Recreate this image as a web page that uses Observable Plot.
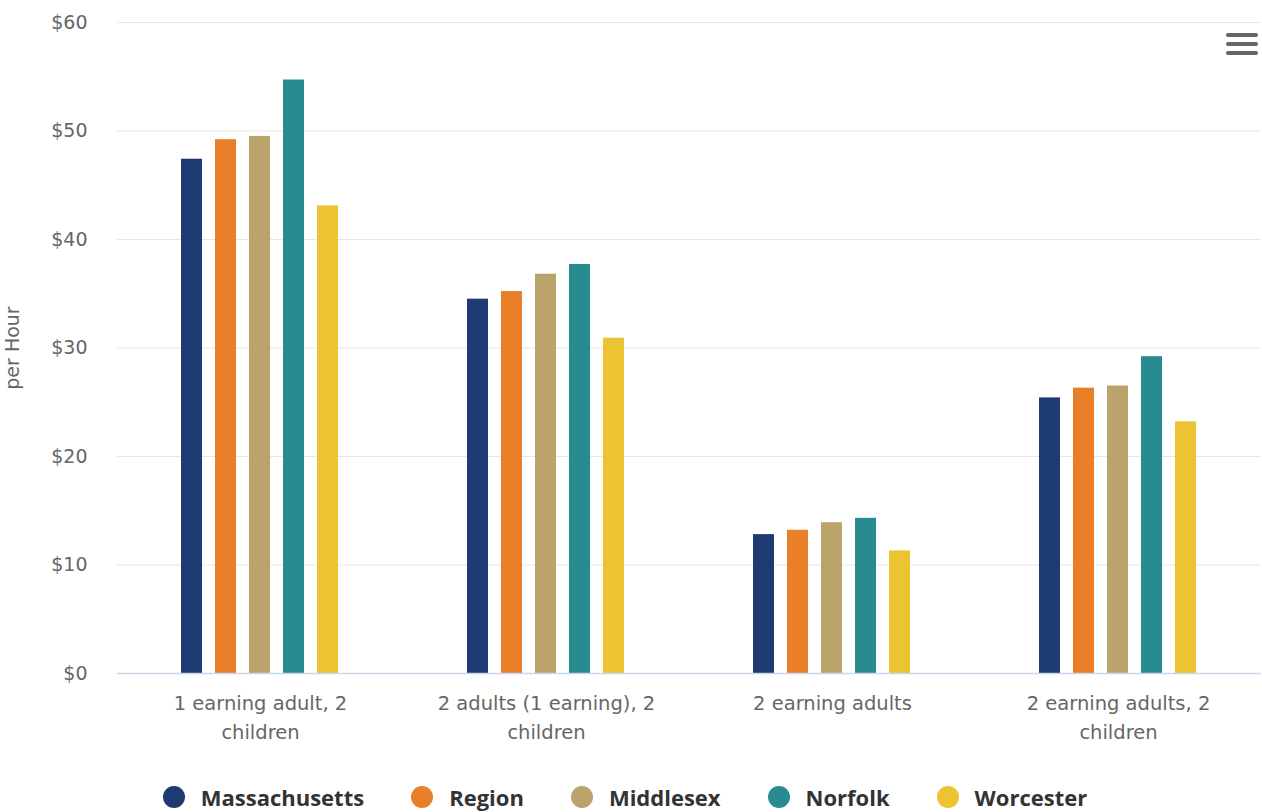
<!DOCTYPE html>
<html>
<head>
<meta charset="utf-8">
<script src="https://cdn.jsdelivr.net/npm/d3@7"></script>
<script src="https://cdn.jsdelivr.net/npm/@observablehq/plot@0.6"></script>
<style>
  body { margin: 0; background: #fff; font-family: "Open Sans", sans-serif; }
  #wrap { position: relative; width: 1262px; height: 812px; }
  #legend { position: absolute; left: 0; top: 782px; width: 1262px; display: flex; justify-content: center; gap: 47px; padding-right: 12px; box-sizing: border-box; }
  .item { display: flex; align-items: center; gap: 16px; font-weight: bold; font-size: 22px; color: #333; line-height: 30px; }
  .dot { width: 22px; height: 22px; border-radius: 50%; display: inline-block; }
  #menu { position: absolute; left: 1226px; top: 33px; width: 32px; }
  #menu span { display: block; height: 4px; background: #666; border-radius: 2px; margin-bottom: 5px; }
</style>
</head>
<body>
<div id="wrap">
  <div id="chart"></div>
  <div id="menu"><span></span><span></span><span></span></div>
  <div id="legend"></div>
</div>
<script>
const categories = ["1 earning adult, 2 children", "2 adults (1 earning), 2 children", "2 earning adults", "2 earning adults, 2 children"];
const categoryLabels = ["1 earning adult, 2\nchildren", "2 adults (1 earning), 2\nchildren", "2 earning adults", "2 earning adults, 2\nchildren"];
const series = ["Massachusetts", "Region", "Middlesex", "Norfolk", "Worcester"];
const colors = ["#1d3a72", "#e97f28", "#bba46c", "#288b8f", "#ecc433"];
const massachusetts = [47.4, 34.5, 12.8, 25.4];
const region = [49.2, 35.2, 13.2, 26.3];
const middlesex = [49.5, 36.8, 13.9, 26.5];
const norfolk = [54.7, 37.7, 14.3, 29.2];
const worcester = [43.1, 30.9, 11.3, 23.2];
const yTicks = [0, 10, 20, 30, 40, 50, 60];

const seriesValues = [massachusetts, region, middlesex, norfolk, worcester];
const data = [];
categories.forEach((c, i) => series.forEach((s, j) => data.push({category: c, series: s, value: seriesValues[j][i]})));
const labelOf = new Map(categories.map((c, i) => [c, categoryLabels[i]]));

const axisFont = "'DejaVu Sans', sans-serif";

const chart = Plot.plot({
  width: 1262,
  height: 760,
  marginLeft: 115,
  marginRight: 0,
  marginTop: 22,
  marginBottom: 87,
  style: {fontFamily: axisFont, color: "#666", background: "transparent"},
  fx: {domain: categories, padding: 0, label: null},
  x: {domain: series, paddingInner: 0.37, paddingOuter: 1.79, axis: null},
  y: {domain: [0, 60], label: null},
  color: {domain: series, range: colors},
  marks: [
    Plot.gridY(yTicks, {stroke: "#e6e6e6", strokeOpacity: 1, strokeWidth: 1}),
    Plot.axisY(yTicks, {tickSize: 0, tickPadding: 30, fontSize: 19, fill: "#666", tickFormat: d => "$" + d,
      label: "per Hour", labelAnchor: "center", labelArrow: "none", labelOffset: 112}),
    Plot.barY(data, {fx: "category", x: "series", y: "value", fill: "series"}),
    Plot.ruleY([0], {stroke: "#ccd6eb", strokeWidth: 1.5}),
    Plot.ruleX(categories, {fx: d => d, frameAnchor: "left", y1: 0, y2: 0, insetBottom: -10, stroke: "#ccd6eb", strokeWidth: 1.5}),
    Plot.ruleX(categories.slice(-1), {fx: d => d, frameAnchor: "right", y1: 0, y2: 0, insetBottom: -10, stroke: "#ccd6eb", strokeWidth: 1.5}),
    Plot.axisFx({anchor: "bottom", tickSize: 0, tickPadding: 16, fontSize: 19.5, lineHeight: 1.48, fill: "#666", label: null,
      tickFormat: d => labelOf.get(d)})
  ]
});
document.getElementById("chart").appendChild(chart);

const legend = document.getElementById("legend");
series.forEach((s, i) => {
  const item = document.createElement("div");
  item.className = "item";
  item.innerHTML = `<span class="dot" style="background:${colors[i]}"></span><span>${s}</span>`;
  legend.appendChild(item);
});
</script>
</body>
</html>
